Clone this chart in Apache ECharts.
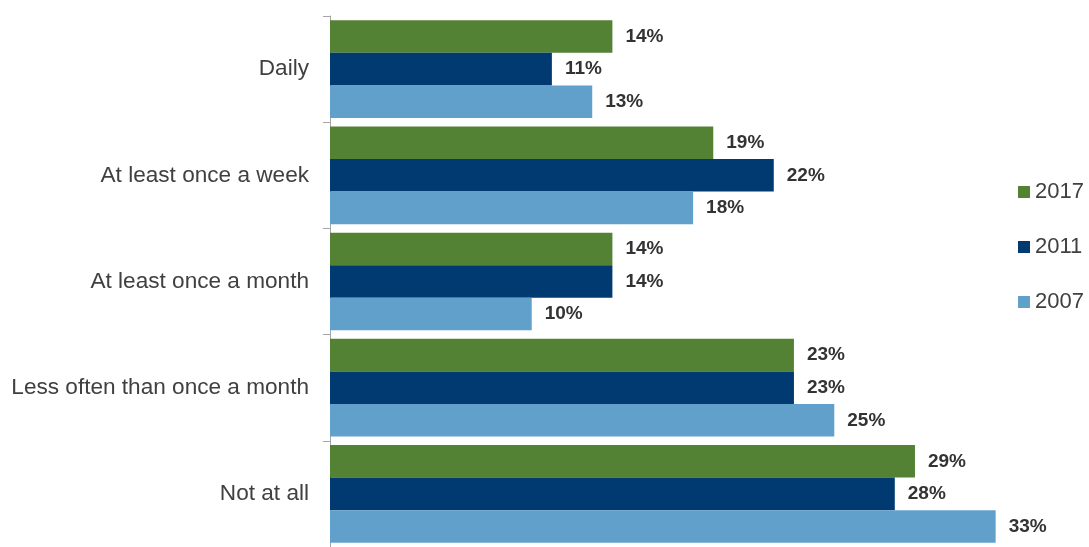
<!DOCTYPE html>
<html>
<head>
<meta charset="utf-8">
<script src="https://cdn.jsdelivr.net/npm/echarts@6/dist/echarts.min.js"></script>
<style>
  html, body { margin: 0; padding: 0; background: #ffffff; }
  #chart { width: 1089px; height: 547px; }
</style>
</head>
<body>
<div id="chart"></div>
<script>
const categories = ['Daily', 'At least once a week', 'At least once a month', 'Less often than once a month', 'Not at all'];
const years = ['2017', '2011', '2007'];
const values2017 = [14, 19, 14, 23, 29];
const values2011 = [11, 22, 14, 23, 28];
const values2007 = [13, 18, 10, 25, 33];

const colors = ['#548235', '#003A70', '#62A0CC'];
const seriesValues = [values2017, values2011, values2007];

const chart = echarts.init(document.getElementById('chart'));

chart.setOption({
  animation: false,
  grid: { left: 330, top: 16, width: 706, height: 533, containLabel: false },
  legend: {
    orient: 'vertical',
    left: 1018,
    top: 181,
    padding: 0,
    itemWidth: 12,
    itemHeight: 12,
    itemGap: 33,
    icon: 'rect',
    textStyle: { fontFamily: 'Liberation Sans, Arial, sans-serif', fontSize: 22, lineHeight: 22, color: '#404040' },
    data: years
  },
  xAxis: {
    type: 'value',
    min: 0,
    max: 35,
    show: false
  },
  yAxis: {
    type: 'category',
    inverse: true,
    data: categories,
    axisLine: { show: true, lineStyle: { color: '#A6A6A6', width: 1 } },
    axisTick: { show: true, length: 7, lineStyle: { color: '#A6A6A6' } },
    axisLabel: {
      margin: 21,
      fontFamily: 'Liberation Sans, Arial, sans-serif',
      fontSize: 22.6,
      color: '#404040'
    }
  },
  series: years.map((y, i) => ({
    name: y,
    type: 'bar',
    data: seriesValues[i],
    barGap: '0%',
    barCategoryGap: '8%',
    itemStyle: { color: colors[i] },
    label: {
      show: true,
      position: 'right',
      distance: 13,
      formatter: '{c}%',
      fontFamily: 'Liberation Sans, Arial, sans-serif',
      fontWeight: 'bold',
      fontSize: 19,
      color: '#333333'
    }
  }))
});
</script>
</body>
</html>
